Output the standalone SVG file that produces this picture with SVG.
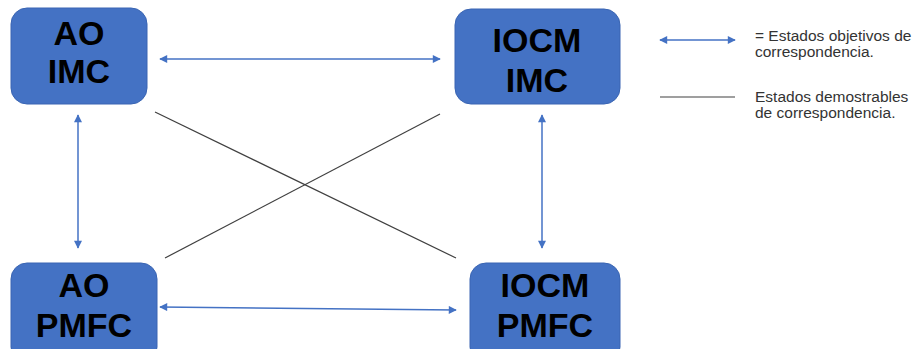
<svg xmlns="http://www.w3.org/2000/svg" width="916" height="349" viewBox="0 0 916 349">
<defs>
<style>
.box{fill:#4472C4;stroke:#3A65B3;stroke-width:1}
.bt{font-family:"Liberation Sans",Arial,sans-serif;font-weight:bold;font-size:34px;fill:#000;text-anchor:middle}
.lt{font-family:"Liberation Sans",Arial,sans-serif;font-size:15.5px;fill:#333}
.ar{stroke:#4472C4;stroke-width:1.5;fill:none;marker-start:url(#ah);marker-end:url(#ah)}
.bl{stroke:#404040;stroke-width:1.2;fill:none}
</style>
<marker id="ah" viewBox="0 0 10 10" refX="9" refY="5" markerWidth="9" markerHeight="8" markerUnits="userSpaceOnUse" orient="auto-start-reverse">
<path d="M0,0 L10,5 L0,10 z" fill="#4472C4"/>
</marker>
</defs>
<rect width="916" height="349" fill="#fff"/>
<g id="connectors">
<line class="ar" x1="160" y1="59" x2="440" y2="59"/>
<line class="ar" x1="160" y1="307" x2="456" y2="310"/>
<line class="ar" x1="78" y1="115" x2="78" y2="248"/>
<line class="ar" x1="542" y1="115" x2="542" y2="248"/>
<line class="bl" x1="155" y1="112" x2="456" y2="258"/>
<line class="bl" x1="440" y1="114" x2="165" y2="258"/>
</g>
<g id="ao-imc">
<rect class="box" x="11" y="8" width="136" height="96" rx="16"/>
<text class="bt" x="79" y="45">AO</text>
<text class="bt" x="79" y="83">IMC</text>
</g>
<g id="iocm-imc">
<rect class="box" x="455" y="9" width="165" height="95" rx="16"/>
<text class="bt" x="537" y="52">IOCM</text>
<text class="bt" x="537" y="92">IMC</text>
</g>
<g id="ao-pmfc">
<rect class="box" x="11" y="263" width="146" height="100" rx="16"/>
<text class="bt" x="84" y="297">AO</text>
<text class="bt" x="84" y="337">PMFC</text>
</g>
<g id="iocm-pmfc">
<rect class="box" x="470" y="263" width="150" height="100" rx="16"/>
<text class="bt" x="545" y="297">IOCM</text>
<text class="bt" x="545" y="337">PMFC</text>
</g>
<g id="legend">
<line class="ar" x1="660" y1="40" x2="735" y2="40"/>
<line class="bl" x1="660" y1="97" x2="735" y2="97" stroke="#000"/>
<text class="lt" x="755" y="41">= Estados objetivos de</text>
<text class="lt" x="755" y="57">correspondencia.</text>
<text class="lt" x="755" y="102">Estados demostrables</text>
<text class="lt" x="755" y="118">de correspondencia.</text>
</g>
</svg>
